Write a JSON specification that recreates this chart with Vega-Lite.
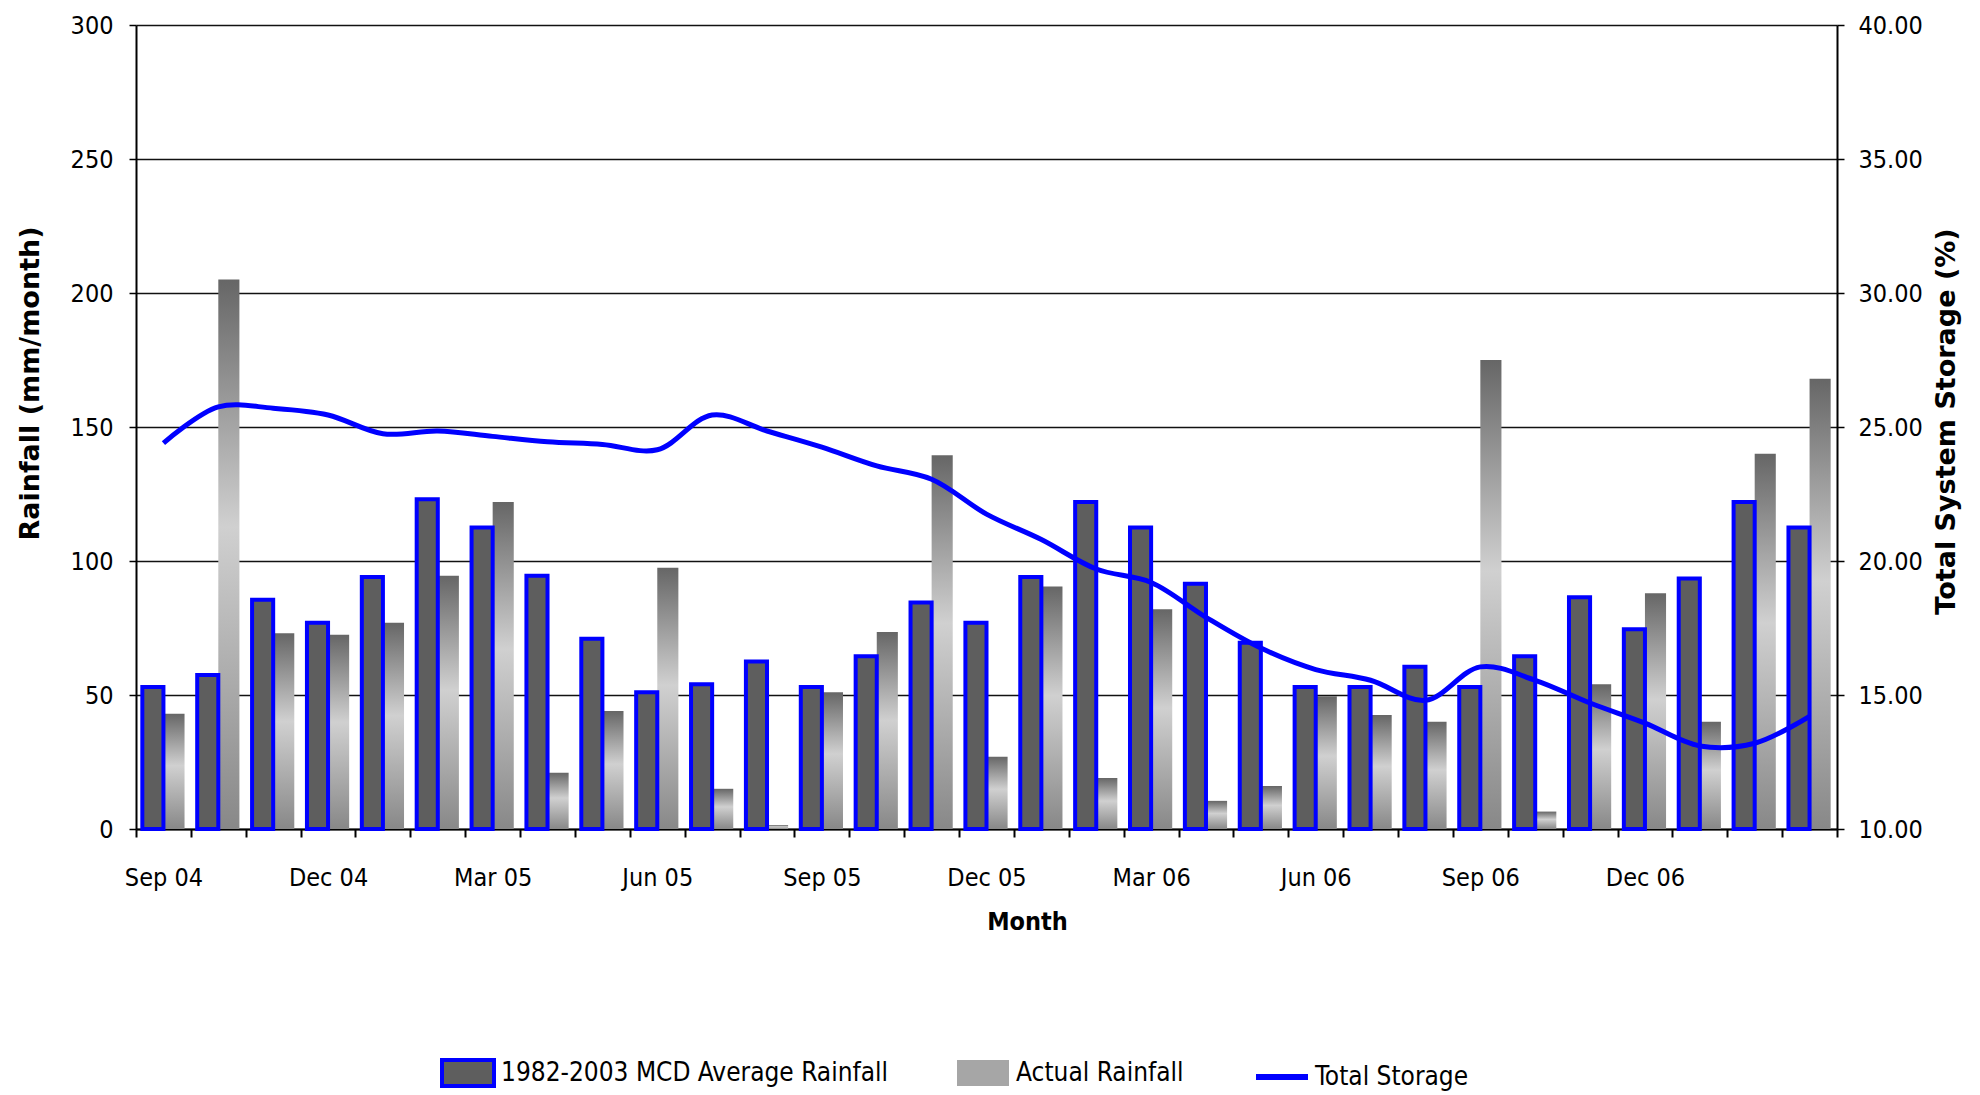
{
  "$schema": "https://vega.github.io/schema/vega-lite/v6.json",
  "width": 1701,
  "height": 804,
  "autosize": {"type": "none"},
  "padding": {"left": 136, "top": 25, "right": 143, "bottom": 266},
  "background": "white",
  "config": {"view": {"stroke": null}, "font": "Liberation Sans Narrow, DejaVu Sans Condensed, Liberation Sans, sans-serif"},
  "data": {"values": [
    {"month": "Sep 04", "avg": 53, "actual": 43, "storage": 24.4},
    {"month": "Oct 04", "avg": 57.5, "actual": 205, "storage": 25.75},
    {"month": "Nov 04", "avg": 85.5, "actual": 73, "storage": 25.7},
    {"month": "Dec 04", "avg": 77, "actual": 72.5, "storage": 25.45},
    {"month": "Jan 05", "avg": 94, "actual": 77, "storage": 24.75},
    {"month": "Feb 05", "avg": 123, "actual": 94.5, "storage": 24.85},
    {"month": "Mar 05", "avg": 112.5, "actual": 122, "storage": 24.65},
    {"month": "Apr 05", "avg": 94.5, "actual": 21, "storage": 24.45},
    {"month": "May 05", "avg": 71, "actual": 44, "storage": 24.35},
    {"month": "Jun 05", "avg": 51, "actual": 97.5, "storage": 24.15},
    {"month": "Jul 05", "avg": 54, "actual": 15, "storage": 25.45},
    {"month": "Aug 05", "avg": 62.5, "actual": 1.5, "storage": 24.85},
    {"month": "Sep 05", "avg": 53, "actual": 51, "storage": 24.25},
    {"month": "Oct 05", "avg": 64.5, "actual": 73.5, "storage": 23.55},
    {"month": "Nov 05", "avg": 84.5, "actual": 139.5, "storage": 23.05},
    {"month": "Dec 05", "avg": 77, "actual": 27, "storage": 21.75},
    {"month": "Jan 06", "avg": 94, "actual": 90.5, "storage": 20.8},
    {"month": "Feb 06", "avg": 122, "actual": 19, "storage": 19.7},
    {"month": "Mar 06", "avg": 112.5, "actual": 82, "storage": 19.2},
    {"month": "Apr 06", "avg": 91.5, "actual": 10.5, "storage": 17.9},
    {"month": "May 06", "avg": 69.5, "actual": 16, "storage": 16.75},
    {"month": "Jun 06", "avg": 53, "actual": 49.5, "storage": 15.95},
    {"month": "Jul 06", "avg": 53, "actual": 42.5, "storage": 15.55},
    {"month": "Aug 06", "avg": 60.5, "actual": 40, "storage": 14.8},
    {"month": "Sep 06", "avg": 53, "actual": 175, "storage": 16.05},
    {"month": "Oct 06", "avg": 64.5, "actual": 6.5, "storage": 15.55},
    {"month": "Nov 06", "avg": 86.5, "actual": 54, "storage": 14.7},
    {"month": "Dec 06", "avg": 74.5, "actual": 88, "storage": 13.95},
    {"month": "Jan 07", "avg": 93.5, "actual": 40, "storage": 13.1},
    {"month": "Feb 07", "avg": 122, "actual": 140, "storage": 13.2},
    {"month": "Mar 07", "avg": 112.5, "actual": 168, "storage": 14.2}
  ]},
  "layer": [
    {
      "layer": [
        {
          "transform": [
            {"fold": ["avg", "actual"], "as": ["key", "value"]},
            {"filter": "datum.key === 'actual'"}
          ],
          "mark": {
            "type": "bar",
            "color": {
              "gradient": "linear", "x1": 0, "y1": 0, "x2": 0, "y2": 1,
              "stops": [
                {"offset": 0, "color": "#666666"},
                {"offset": 0.45, "color": "#d0d0d0"},
                {"offset": 1, "color": "#888888"}
              ]
            }
          },
          "encoding": {
            "x": {
              "field": "month", "type": "ordinal", "sort": null,
              "scale": {"paddingInner": 0, "paddingOuter": 0},
              "axis": {
                "title": "Month",
                "tickBand": "extent",
                "labelExpr": "indexof(['Sep 04','Dec 04','Mar 05','Jun 05','Sep 05','Dec 05','Mar 06','Jun 06','Sep 06','Dec 06'], datum.value) >= 0 ? datum.value : ''",
                "labelAngle": 0,
                "labelFontSize": 25,
                "labelColor": "black",
                "labelBaseline": "middle",
                "labelPadding": 40,
                "tickSize": 8,
                "tickColor": "black",
                "tickWidth": 2,
                "domainColor": "black",
                "domainWidth": 2,
                "grid": false,
                "titleFontWeight": "bold",
                "titleFontSize": 25,
                "titleColor": "black",
                "titleX": 891,
                "titleY": 92,
                "titleAlign": "center",
                "titleBaseline": "middle"
              }
            },
            "xOffset": {"field": "key", "type": "nominal", "scale": {"domain": ["avg", "actual"], "paddingInner": 0, "paddingOuter": 0.3}},
            "y": {
              "field": "value", "type": "quantitative",
              "scale": {"domain": [0, 300]},
              "axis": {
                "orient": "left",
                "title": "Rainfall  (mm/month)",
                "values": [0, 50, 100, 150, 200, 250, 300],
                "grid": true,
                "gridColor": "#111111",
                "gridWidth": 1.5,
                "gridOpacity": 1,
                "domainColor": "black",
                "domainWidth": 2,
                "tickColor": "black",
                "tickSize": 7,
                "tickWidth": 1.5,
                "labelFontSize": 25,
                "labelColor": "black",
                "labelPadding": 16,
                "titleFont": "DejaVu Sans",
                "titleFontSize": 27,
                "titleFontWeight": "bold",
                "titleColor": "black",
                "titleX": -106,
                "titleY": 358,
                "titleAngle": 270,
                "titleAlign": "center",
                "titleBaseline": "middle"
              }
            }
          }
        },
        {
          "transform": [
            {"fold": ["avg", "actual"], "as": ["key", "value"]},
            {"filter": "datum.key === 'avg'"}
          ],
          "mark": {"type": "bar"},
          "encoding": {
            "x": {"field": "month", "type": "ordinal", "sort": null},
            "xOffset": {"field": "key", "type": "nominal", "scale": {"domain": ["avg", "actual"]}},
            "y": {"field": "value", "type": "quantitative"},
            "strokeWidth": {"value": 4},
            "fill": {
              "field": "key", "type": "nominal",
              "scale": {"domain": ["avg", "actual", "storage"], "range": ["#5e5e5e", "#a6a6a6", "transparent"]},
              "legend": {
                "orient": "none", "legendX": 319, "legendY": 1035,
                "direction": "horizontal",
                "title": null,
                "labelExpr": "datum.value === 'avg' ? '1982-2003 MCD Average Rainfall' : (datum.value === 'actual' ? 'Actual Rainfall' : 'Total Storage')",
                "labelFontSize": 26, "labelColor": "black", "labelLimit": 0, "labelOffset": 20,
                "columnPadding": 60,
                "symbolType": {"expr": "datum.value === 'storage' ? 'stroke' : 'M-1,-0.5H1V0.5H-1Z'"},
                "symbolStrokeWidth": {"expr": "datum.value === 'storage' ? 6 : 4"},
                "symbolSize": 2704,
                "symbolOpacity": 1
              }
            },
            "stroke": {
              "field": "key", "type": "nominal",
              "scale": {"domain": ["avg", "actual", "storage"], "range": ["#0000ff", "transparent", "#0000ff"]},
              "legend": {
                "orient": "none", "legendX": 319, "legendY": 1035,
                "direction": "horizontal",
                "title": null,
                "labelExpr": "datum.value === 'avg' ? '1982-2003 MCD Average Rainfall' : (datum.value === 'actual' ? 'Actual Rainfall' : 'Total Storage')",
                "labelFontSize": 26, "labelColor": "black", "labelLimit": 0, "labelOffset": 20,
                "columnPadding": 60,
                "symbolType": {"expr": "datum.value === 'storage' ? 'stroke' : 'M-1,-0.5H1V0.5H-1Z'"},
                "symbolStrokeWidth": {"expr": "datum.value === 'storage' ? 6 : 4"},
                "symbolSize": 2704,
                "symbolOpacity": 1
              }
            }
          }
        }
      ]
    },
    {
      "mark": {"type": "line", "interpolate": "catmull-rom", "strokeWidth": 5, "color": "#0000ff"},
      "encoding": {
        "x": {"field": "month", "type": "ordinal", "sort": null},
        "y": {
          "field": "storage", "type": "quantitative",
          "scale": {"domain": [10, 40]},
          "axis": {
            "orient": "right",
            "title": "Total System Storage (%)",
            "values": [10, 15, 20, 25, 30, 35, 40],
            "format": ".2f",
            "grid": false,
            "domainColor": "black",
            "domainWidth": 2,
            "tickColor": "black",
            "tickSize": 7,
            "tickWidth": 1.5,
            "labelFontSize": 25,
            "labelColor": "black",
            "labelPadding": 14,
            "titleFont": "DejaVu Sans",
            "titleFontSize": 27,
            "titleFontWeight": "bold",
            "titleColor": "black",
            "titleX": 109,
            "titleY": 396,
            "titleAngle": 270,
            "titleAlign": "center",
            "titleBaseline": "middle"
          }
        }
      }
    }
  ],
  "resolve": {"scale": {"y": "independent"}}
}
